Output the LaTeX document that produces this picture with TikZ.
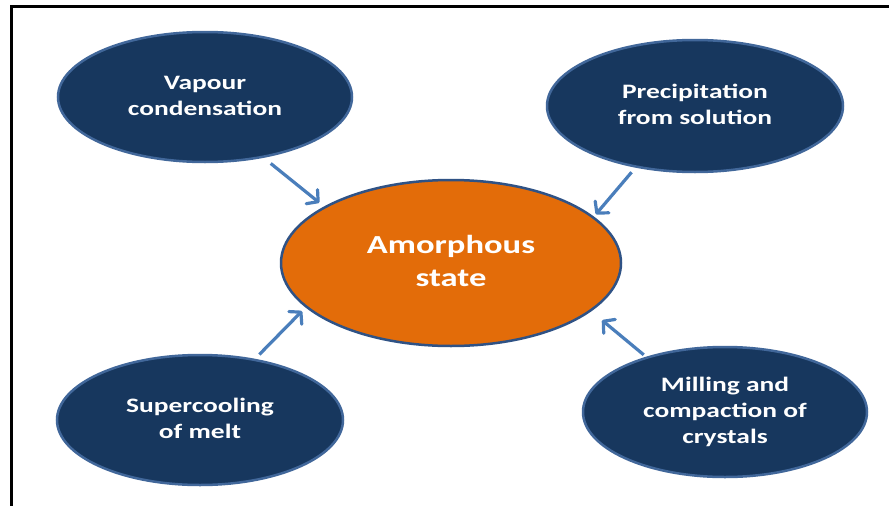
\documentclass[tikz,border=0pt]{standalone}
\usepackage{fontspec}
\setmainfont{Carlito}
\usetikzlibrary{arrows.meta,shapes.geometric}
\definecolor{navyfill}{HTML}{17375E}
\definecolor{rimblue}{HTML}{41679A}
\definecolor{darkrim}{HTML}{2F5285}
\definecolor{orangefill}{HTML}{E36C09}
\definecolor{arrowblue}{HTML}{4A7EBB}
\newcommand{\stext}[1]{\fontsize{20.5}{26}\selectfont\scalebox{1.34}[1]{\begin{tabular}{@{}c@{}}#1\end{tabular}}}
\newcommand{\btext}[1]{\fontsize{26}{33}\selectfont\scalebox{1.33}[1]{\begin{tabular}{@{}c@{}}#1\end{tabular}}}
\tikzset{
  source/.style={ellipse, draw=rimblue, line width=2.5pt, fill=navyfill, text=white,
    font=\bfseries, inner sep=0pt},
  centre/.style={ellipse, draw=darkrim, line width=2.5pt, fill=orangefill, text=white,
    font=\bfseries, inner sep=0pt, minimum width=340pt, minimum height=166pt},
  feed/.style={draw=arrowblue, line width=3.2pt,
    -{Straight Barb[length=8pt,width=18pt,line width=3.2pt,line cap=round,round]}}
}
\begin{document}
\begin{tikzpicture}[x=1pt,y=-1pt]
\useasboundingbox (0,0) rectangle (889,506);
\fill[white] (0,0) rectangle (889,506);
\draw[line width=3pt] (11,506) -- (11,6.5) -- (889,6.5);

\node[centre] (amo) at (451,263) {\btext{Amorphous\\state}};
\node[source, minimum width=294pt, minimum height=130pt] (vap) at (205,97) {\stext{Vapour\\condensation}};
\node[source, minimum width=296pt, minimum height=132pt] (pre) at (695,106) {\stext{Precipitation\\from solution}};
\node[source, minimum width=286pt, minimum height=130pt] (sup) at (200,420) {\stext{Supercooling\\of melt}};
\node[source, minimum width=284pt, minimum height=130pt] (mil) at (725,412) {\stext{Milling and\\compaction of\\crystals}};

\draw[feed, shorten <=9pt, shorten >=6pt] (vap.-46.3) -- (amo.156.8);
\draw[feed, shorten <=6pt, shorten >=3pt] (pre.226.3) -- (amo.18.9);
\draw[feed, shorten <=6pt, shorten >=5pt] (sup.48.3) -- (amo.197.8);
\draw[feed, shorten <=3pt, shorten >=14pt] (mil.145.3) -- (amo.-19.7);
\end{tikzpicture}
\end{document}
